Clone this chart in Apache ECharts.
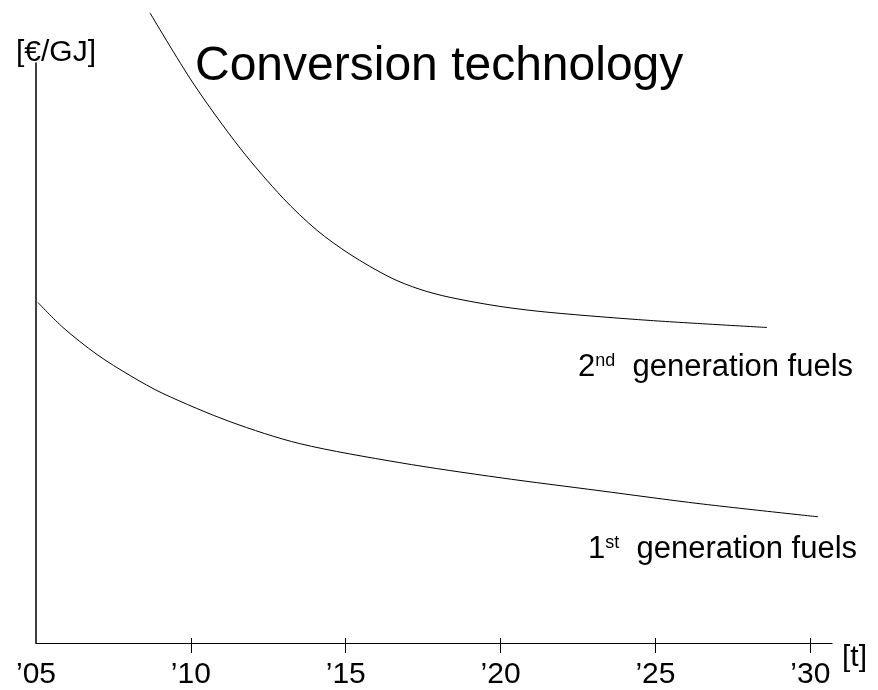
<!DOCTYPE html>
<html>
<head>
<meta charset="utf-8">
<script src="https://cdn.jsdelivr.net/npm/echarts@6/dist/echarts.min.js"></script>
<style>html,body{margin:0;padding:0;background:#fff}#c{width:878px;height:690px}</style>
</head>
<body>
<div id="c"></div>
<script>
var tickYears = [2005, 2010, 2015, 2020, 2025, 2030];
var secondGen = [[2008.68,108.64],[2010.07,96.55],[2011.59,85.32],[2012.98,76.68],[2014.07,71.16],[2015.14,67.01],[2016.43,63.04],[2017.40,60.97],[2018.37,59.59],[2019.98,58.03],[2021.60,56.99],[2024.83,55.61],[2028.60,54.40]];
var firstGen = [[2005.06,58.72],[2005.87,54.40],[2006.97,49.74],[2008.04,46.11],[2009.10,43.01],[2011.26,38.17],[2013.52,34.37],[2016.75,31.09],[2019.98,28.50],[2023.21,26.25],[2026.44,24.01],[2030.25,21.76]];
var titleText = 'Conversion technology';
var yName = '[€/GJ]';
var xName = '[t]';

var F = 'Liberation Sans, Arial, Helvetica, sans-serif';
var chart = echarts.init(document.getElementById('c'));
var xCommon = {type:'value', min:2005, max:2030.7, interval:5, splitLine:{show:false}};
function supLabel(base, sup) {
  return {text:'{n|' + base + '}{s|' + sup + '}{n|  generation fuels}',
    rich:{n:{fontFamily:F, fontSize:31, fill:'#000'},
          s:{fontFamily:F, fontSize:18, fill:'#000', verticalAlign:'top', padding:[0,0,12,0]}}};
}
chart.setOption({
  animation:false,
  backgroundColor:'#fff',
  title:{text:titleText, left:190, top:38, textStyle:{fontFamily:F, fontSize:48, fontWeight:'normal', color:'#000'}},
  grid:{left:36, right:46, top:63, bottom:47},
  xAxis:[
    Object.assign({}, xCommon, {
      position:'bottom',
      name:xName, nameLocation:'end', nameGap:10,
      nameTextStyle:{fontFamily:F, fontSize:30, color:'#000', verticalAlign:'top', padding:[0,0,0,0]},
      axisLine:{lineStyle:{color:'#000', width:1.2}},
      axisTick:{show:true, length:10, inside:false, customValues:tickYears.slice(1), lineStyle:{color:'#000'}},
      axisLabel:{customValues:tickYears, margin:17, fontFamily:F, fontSize:30, color:'#000',
        formatter:function(v){return '\u2019' + String(v).slice(2);}}
    }),
    Object.assign({}, xCommon, {
      position:'bottom',
      axisLine:{show:false},
      axisTick:{show:true, length:5, inside:true, customValues:tickYears.slice(1), lineStyle:{color:'#000'}},
      axisLabel:{show:false}
    })
  ],
  yAxis:{type:'value', min:0, max:100, splitLine:{show:false},
    name:yName, nameLocation:'end', nameGap:-5,
    nameTextStyle:{fontFamily:F, fontSize:30, color:'#000', align:'center', padding:[0,0,0,40]},
    axisLine:{show:true, lineStyle:{color:'#000', width:1.5}},
    axisTick:{show:false}, axisLabel:{show:false}},
  series:[
    {type:'line', name:'2nd generation fuels', data:secondGen, smooth:0.3, showSymbol:false, clip:false,
      lineStyle:{color:'#000', width:1}},
    {type:'line', name:'1st generation fuels', data:firstGen, smooth:0.3, showSymbol:false, clip:false,
      lineStyle:{color:'#000', width:1}}
  ],
  graphic:[
    {type:'text', left:578, top:352, style:supLabel('2', 'nd')},
    {type:'text', left:588, top:534, style:supLabel('1', 'st')}
  ]
});
</script>
</body>
</html>
